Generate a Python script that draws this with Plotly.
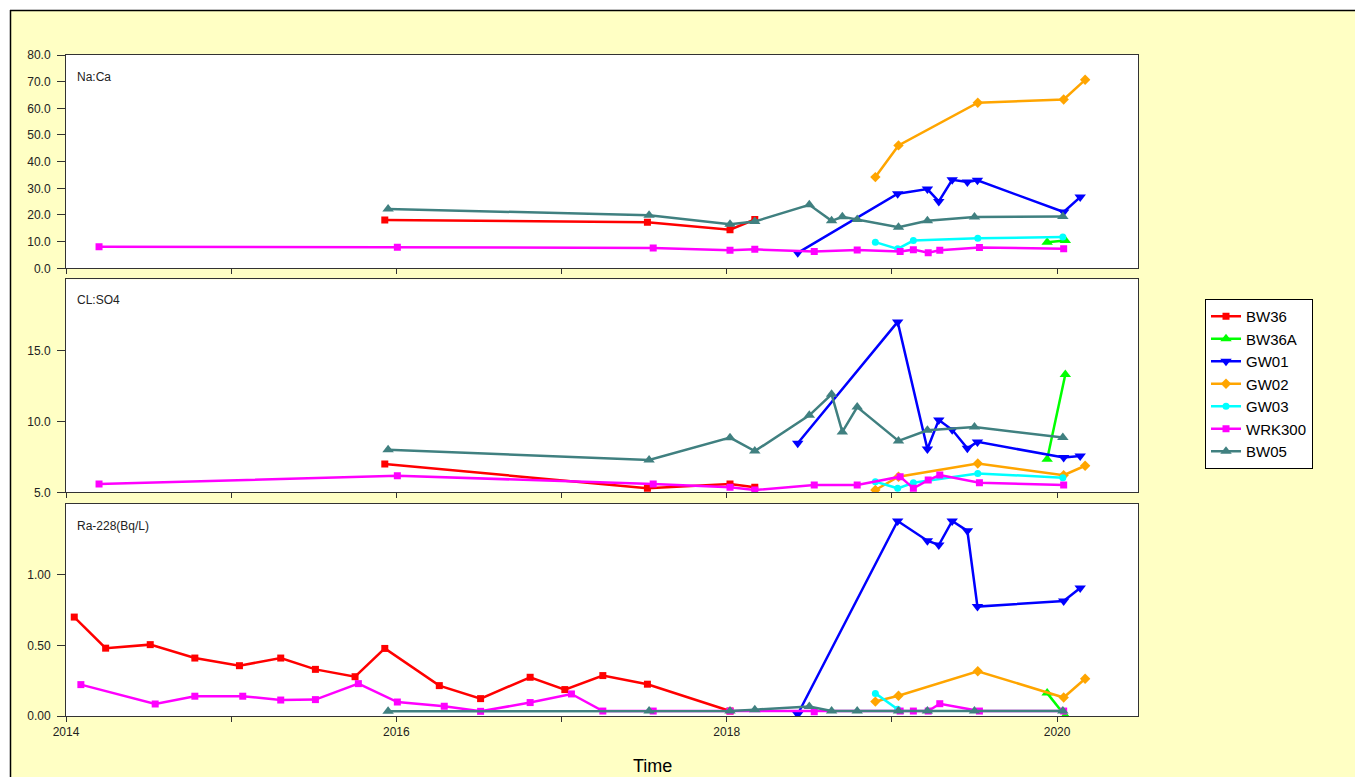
import plotly.graph_objects as go
from plotly.subplots import make_subplots

# decimal-year sample dates and values read per well; None = not sampled for that panel
bw36_t = [2014.05, 2014.24, 2014.51, 2014.78, 2015.05, 2015.30, 2015.51, 2015.75, 2015.93,
          2016.26, 2016.51, 2016.81, 2017.02, 2017.25, 2017.52, 2018.02, 2018.17]
bw36_naca = [None] * 8 + [18.1] + [None] * 5 + [17.3, 14.5, 18.3]
bw36_clso4 = [None] * 8 + [6.99] + [None] * 5 + [5.28, 5.58, 5.35]
bw36_ra = [0.70, 0.48, 0.505, 0.41, 0.356, 0.41, 0.33, 0.278, 0.478,
           0.215, 0.123, 0.274, 0.187, 0.286, 0.225, 0.035, None]

bw36a_t = [2019.94, 2020.05]
bw36a_naca = [9.8, 10.4]
bw36a_clso4 = [7.33, 13.3]
bw36a_ra = [0.162, 0.0]

gw01_t = [2018.43, 2019.035, 2019.215, 2019.284, 2019.365, 2019.457, 2019.518, 2020.04, 2020.14]
gw01_naca = [5.8, 28.0, 29.7, 25.1, 33.2, 32.4, 33.0, 21.1, 26.7]
gw01_clso4 = [8.45, 17.0, 8.05, 10.1, 9.4, 8.1, 8.55, 7.45, 7.55]
gw01_ra = [0.012, 1.38, 1.24, 1.21, 1.38, 1.31, 0.774, 0.814, 0.905]

gw02_t = [2018.90, 2019.04, 2019.52, 2020.04, 2020.17]
gw02_naca = [34.2, 46.1, 62.1, 63.3, 70.7]
gw02_clso4 = [5.16, 6.1, 7.03, 6.2, 6.87]
gw02_ra = [0.102, 0.143, 0.317, 0.131, 0.264]

gw03_t = [2018.90, 2019.035, 2019.13, 2019.52, 2020.035]
gw03_naca = [9.8, 7.3, 10.4, 11.3, 11.7]
gw03_clso4 = [5.75, 5.28, 5.67, 6.33, 6.03]
gw03_ra = [0.16, 0.048, None, None, None]

wrk300_t = [2014.09, 2014.20, 2014.54, 2014.78, 2015.07, 2015.30, 2015.51, 2015.77, 2016.006,
            2016.29, 2016.51, 2016.81, 2017.06, 2017.25, 2017.555, 2018.02, 2018.17, 2018.53,
            2018.79, 2019.05, 2019.13, 2019.22, 2019.29, 2019.53, 2020.04]
wrk300_naca = [None, 8.1, None, None, None, None, None, None, 7.9,
               None, None, None, None, None, 7.65, 6.8, 7.1, 6.3,
               6.9, 6.3, 7.0, 5.8, 6.8, 7.8, 7.3]
wrk300_clso4 = [None, 5.58, None, None, None, None, None, None, 6.17,
                None, None, None, None, None, 5.58, 5.35, 5.16, 5.51,
                5.51, 6.1, 5.28, 5.86, 6.21, 5.67, 5.51]
wrk300_ra = [0.222, None, 0.085, 0.14, 0.14, 0.113, 0.116, 0.229, 0.099,
             0.069, 0.033, 0.095, 0.156, 0.035, 0.035, 0.035, None, 0.03,
             None, 0.035, 0.035, 0.035, 0.087, 0.035, 0.035]

bw05_t = [2015.95, 2017.53, 2018.02, 2018.17, 2018.50, 2018.635, 2018.70, 2018.79,
          2019.04, 2019.215, 2019.50, 2020.035]
bw05_naca = [22.25, 19.9, 16.55, 17.55, 23.8, 17.8, 19.3, 18.3, 15.4, 17.8, 19.2, 19.4]
bw05_clso4 = [8.0, 7.27, 8.85, 7.9, 10.42, 11.9, 9.25, 11.0, 8.62, 9.37, 9.6, 8.86]
bw05_ra = [0.033, 0.035, 0.035, 0.045, 0.067, 0.035, None, 0.035, 0.035, 0.035, 0.035, 0.035]

wells = [
    ("BW36", "#FF0000", "square", 7, bw36_t, [bw36_naca, bw36_clso4, bw36_ra]),
    ("BW36A", "#00FF00", "triangle-up", 10, bw36a_t, [bw36a_naca, bw36a_clso4, bw36a_ra]),
    ("GW01", "#0000FF", "triangle-down", 10, gw01_t, [gw01_naca, gw01_clso4, gw01_ra]),
    ("GW02", "#FFA500", "diamond", 8, gw02_t, [gw02_naca, gw02_clso4, gw02_ra]),
    ("GW03", "#00FFFF", "circle", 7, gw03_t, [gw03_naca, gw03_clso4, gw03_ra]),
    ("WRK300", "#FF00FF", "square", 7, wrk300_t, [wrk300_naca, wrk300_clso4, wrk300_ra]),
    ("BW05", "#408080", "triangle-up", 10, bw05_t, [bw05_naca, bw05_clso4, bw05_ra]),
]

panel_titles = ["Na:Ca", "CL:SO4", "Ra-228(Bq/L)"]
year_ticks = [2014, 2015, 2016, 2017, 2018, 2019, 2020]
year_text = ["2014", "", "2016", "", "2018", "", "2020"]

font = "Liberation Sans, Arial, sans-serif"

fig = make_subplots(rows=3, cols=1)

for name, color, symbol, msize, t, panels in wells:
    for i, vals in enumerate(panels):
        fig.add_trace(go.Scatter(
            x=t, y=vals, name=name, mode="lines+markers", connectgaps=True,
            line=dict(color=color, width=2.5),
            marker=dict(color=color, symbol=symbol, size=msize),
            legendgroup=name, showlegend=(i == 0),
        ), row=i + 1, col=1)

OFF = 8
L, T, W, H = 66 - OFF, 55 - OFF, 1072.0, 661.0
FW, FH = 1363, 777


def px_x(x):
    return (x - OFF - L) / W


def px_y(y):
    return 1 - (y - OFF - T) / H


domains = [[px_y(268.3), 1], [px_y(492.3), px_y(279.3)], [0, px_y(504)]]
yranges = [[0, 80], [5, 20], [0, 1.5]]
yticks = [[0, 10, 20, 30, 40, 50, 60, 70, 80], [5, 10, 15], [0, 0.5, 1.0]]
yfmt = [".1f", ".1f", ".2f"]

for i in range(3):
    n = "" if i == 0 else str(i + 1)
    fig.layout["yaxis" + n].update(
        domain=domains[i], range=yranges[i], tickvals=yticks[i], tickformat=yfmt[i],
        ticks="outside", ticklen=8, tickcolor="#333", showgrid=False, zeroline=False,
        showline=True, linecolor="#333", linewidth=1, mirror=True,
        tickfont=dict(family=font, size=12, color="#222"), ticklabelstandoff=4,
    )
    fig.layout["xaxis" + n].update(
        range=[2014, 2020.49], tickvals=year_ticks,
        ticktext=year_text if i == 2 else [""] * 7,
        ticks="outside", ticklen=5, tickcolor="#333", showgrid=False, zeroline=False,
        showline=True, linecolor="#333", linewidth=1, mirror=True,
        tickfont=dict(family=font, size=12, color="#222"),
    )

annotations = []
for title, yy in zip(panel_titles, [76.7, 300, 526]):
    annotations.append(dict(text=title, xref="paper", yref="paper", x=px_x(75), y=px_y(yy),
                            xanchor="left", yanchor="middle", showarrow=False,
                            font=dict(family=font, size=12, color="#222")))
annotations.append(dict(text="Time", xref="paper", yref="paper", x=px_x(652), y=px_y(766),
                        xanchor="center", yanchor="middle", showarrow=False,
                        font=dict(family=font, size=18, color="#000")))

# white strip above/left of the yellow frame, plus the frame edges
shapes = [
    dict(type="rect", xref="paper", yref="paper", x0=px_x(OFF), x1=px_x(FW + OFF),
         y0=px_y(10), y1=px_y(OFF), fillcolor="white", line=dict(width=0), layer="below"),
    dict(type="rect", xref="paper", yref="paper", x0=px_x(OFF), x1=px_x(10),
         y0=px_y(FH + OFF), y1=px_y(OFF), fillcolor="white", line=dict(width=0), layer="below"),
    dict(type="line", xref="paper", yref="paper", x0=px_x(10), x1=px_x(FW + OFF),
         y0=px_y(10.5), y1=px_y(10.5), line=dict(color="black", width=1.5)),
    dict(type="line", xref="paper", yref="paper", x0=px_x(10.5), x1=px_x(10.5),
         y0=px_y(FH + OFF), y1=px_y(10), line=dict(color="black", width=1.5)),
]

fig.update_layout(
    width=FW, height=FH,
    margin=dict(l=L, r=FW - L - W, t=T, b=FH - T - H),
    paper_bgcolor="#FFFFC4", plot_bgcolor="white",
    annotations=annotations, shapes=shapes,
    showlegend=True,
    legend=dict(x=px_x(1205), y=px_y(299), xanchor="left", yanchor="top",
                bgcolor="white", bordercolor="black", borderwidth=1,
                font=dict(family=font, size=15, color="#000"), itemwidth=30,
                tracegroupgap=0),
)

fig.write_html("out.html")
